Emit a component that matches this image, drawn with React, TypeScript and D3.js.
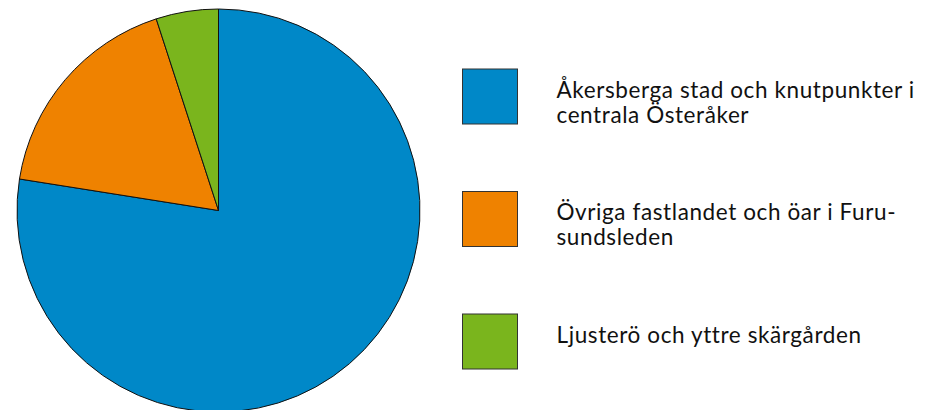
import React, { useRef, useEffect } from 'react';
import * as d3 from 'd3';

// Shares per area (percent)
const categories = [
  ['Åkersberga stad och knutpunkter i', 'centrala Österåker'],
  ['Övriga fastlandet och öar i Furu-', 'sundsleden'],
  ['Ljusterö och yttre skärgården'],
];
const values = [77.5, 17.5, 5];
const colors = ['#0088c8', '#ef8200', '#7ab51d'];

export default function App() {
  const ref = useRef<SVGSVGElement>(null);

  useEffect(() => {
    const width = 927;
    const height = 410;
    const svg = d3.select(ref.current).attr('width', width).attr('height', height);
    svg.selectAll('*').remove();

    const cx = 218.5;
    const cy = 210.5;
    const radius = 201.5;

    const pie = d3.pie<number>().sort(null).value(d => d);
    const arc = d3.arc<d3.PieArcDatum<number>>().innerRadius(0).outerRadius(radius);

    const g = svg.append('g').attr('transform', `translate(${cx},${cy})`);
    g.selectAll('path')
      .data(pie(values))
      .join('path')
      .attr('d', arc)
      .attr('fill', (_, i) => colors[i])
      .attr('stroke', '#111')
      .attr('stroke-width', 1)
      .attr('stroke-linejoin', 'round');

    // Legend
    const y = d3.scalePoint<number>().domain(d3.range(categories.length)).range([69, 314]);
    const legend = svg
      .append('g')
      .selectAll('g')
      .data(categories)
      .join('g')
      .attr('transform', (_, i) => `translate(462.5,${y(i)})`);

    legend
      .append('rect')
      .attr('width', 55)
      .attr('height', 55)
      .attr('fill', (_, i) => colors[i])
      .attr('stroke', '#333')
      .attr('stroke-width', 1);

    legend
      .append('text')
      .attr('font-family', 'Lato, sans-serif')
      .attr('font-size', 22.5)
      .attr('letter-spacing', 0.6)
      .attr('fill', '#111')
      .selectAll('tspan')
      .data(d => d)
      .join('tspan')
      .attr('x', 94)
      .attr('y', (_, j) => 28.5 + j * 25)
      .text(d => d);
  }, []);

  return <svg ref={ref} style={{ position: 'absolute', left: 0, top: 0 }} />;
}
